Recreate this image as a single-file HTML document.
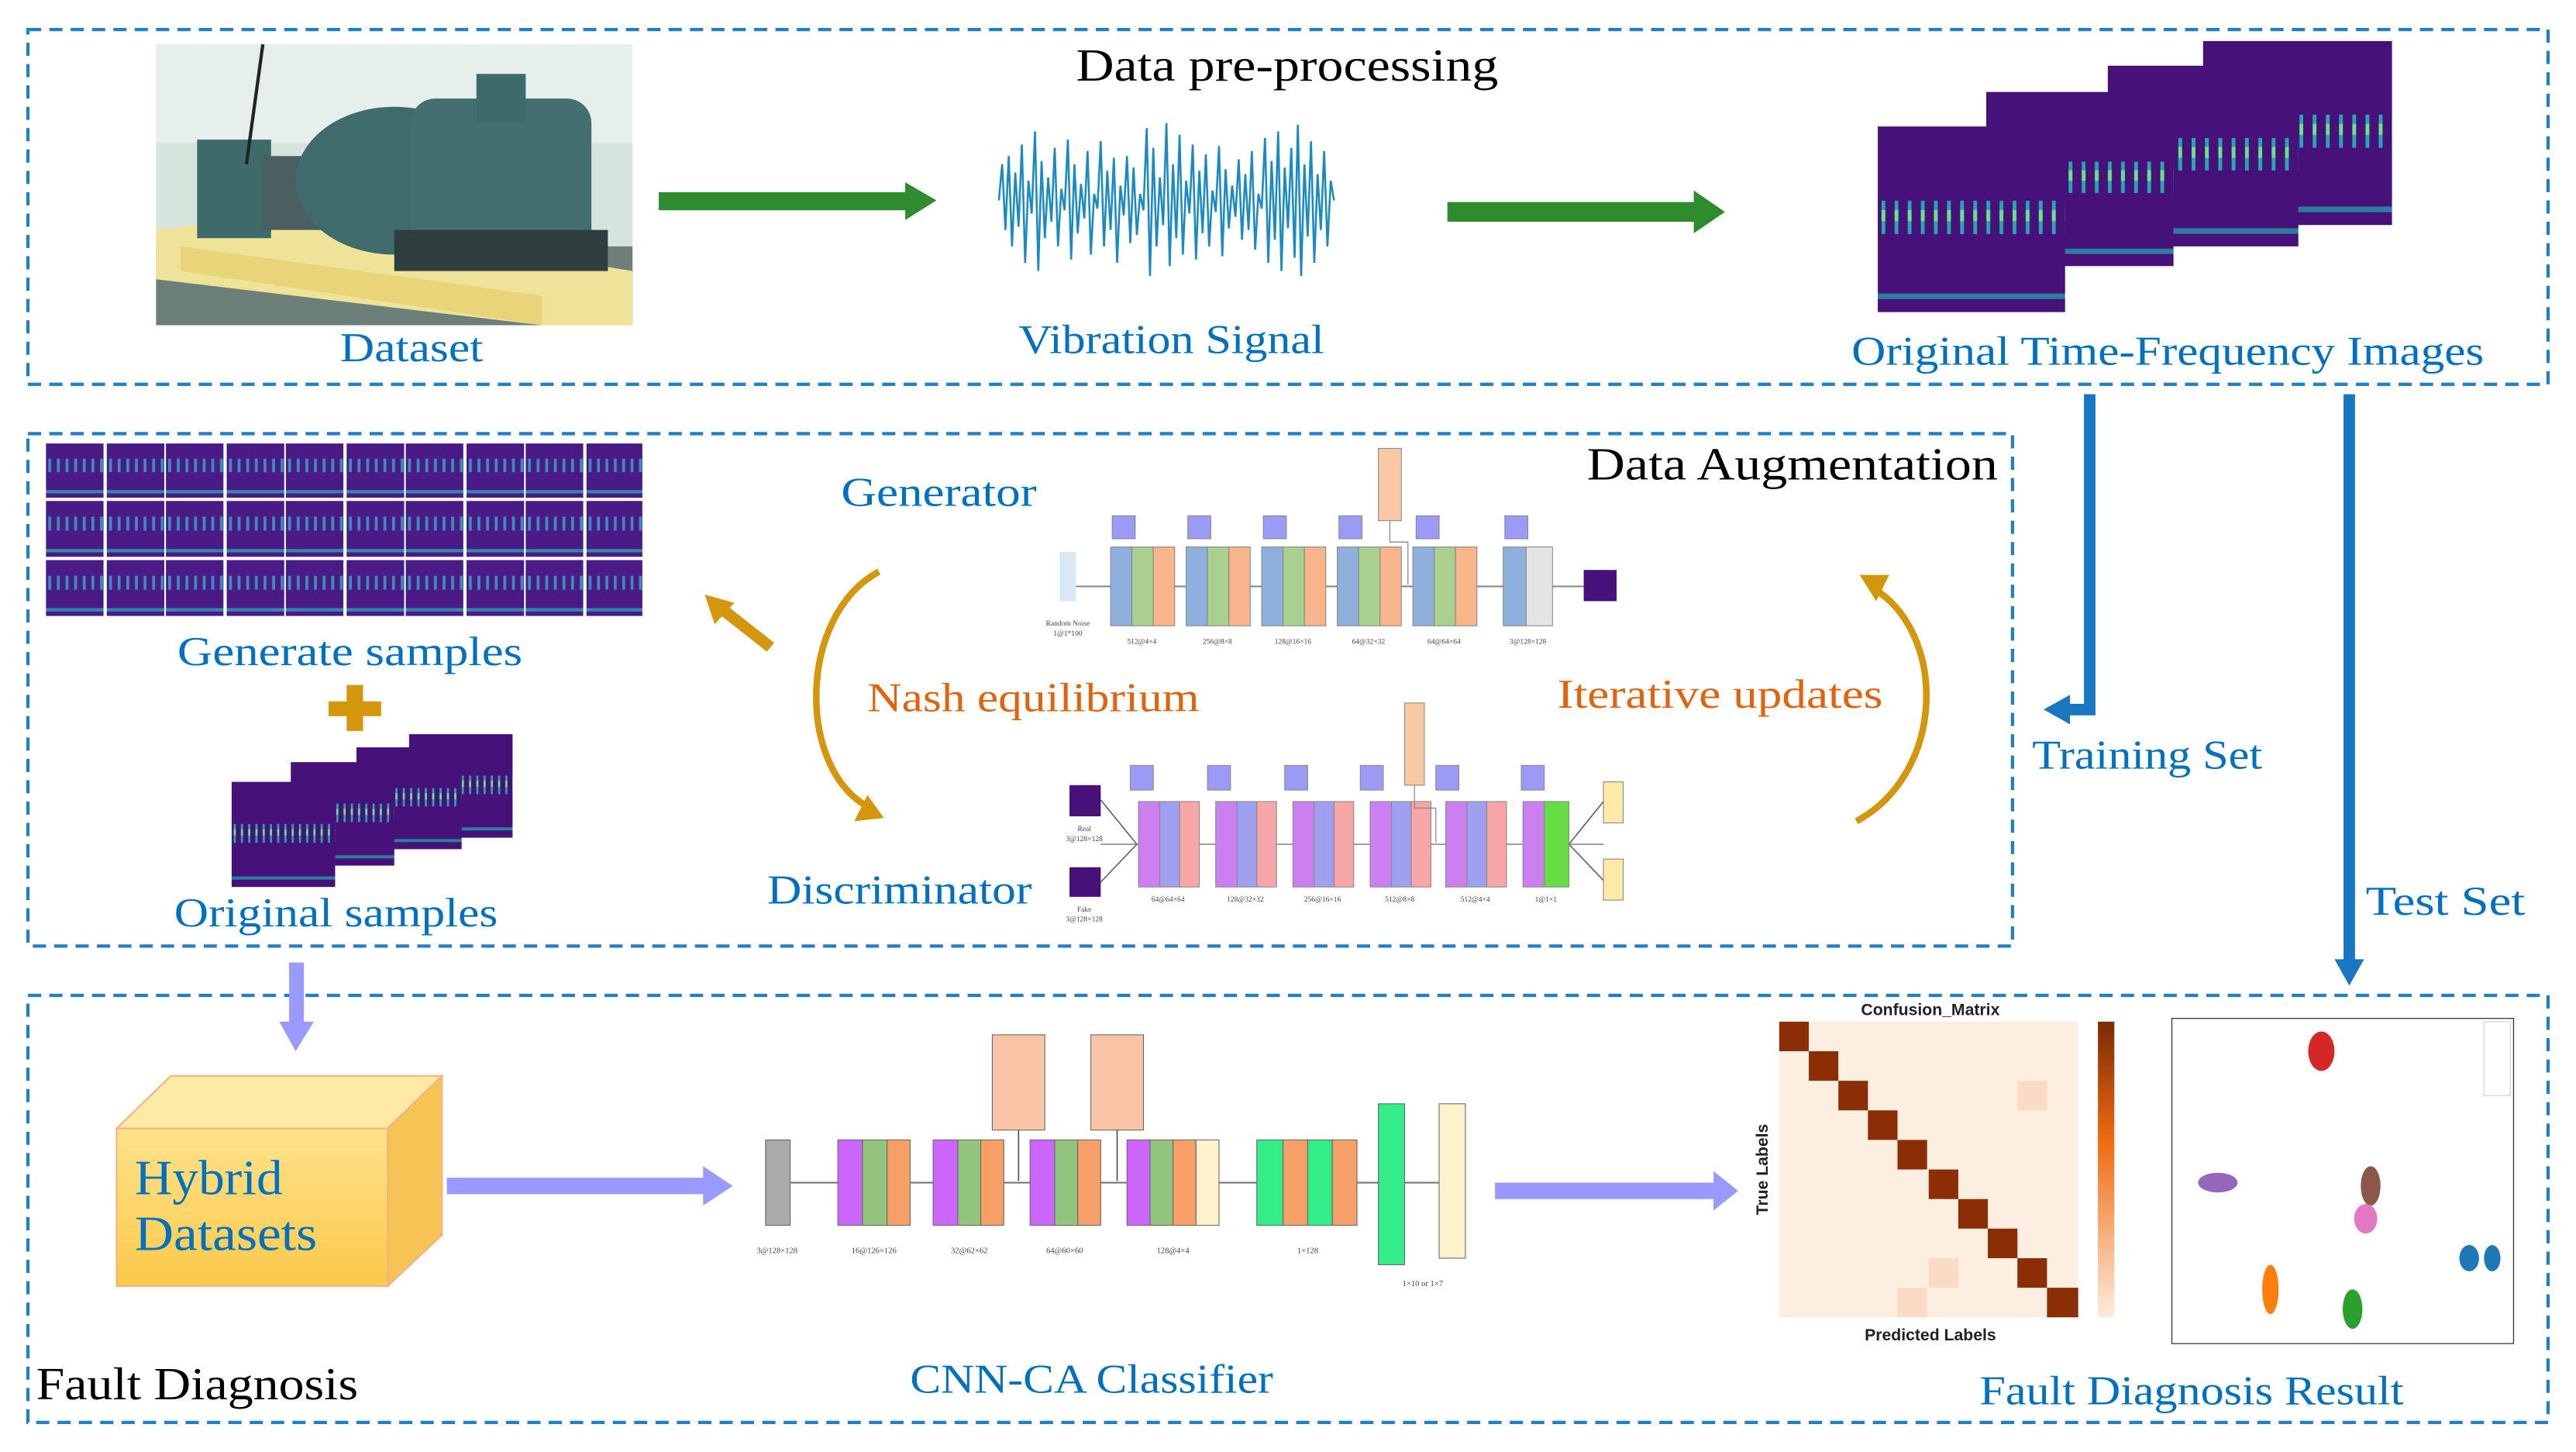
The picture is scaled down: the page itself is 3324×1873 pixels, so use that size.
<!DOCTYPE html>
<html><head><meta charset="utf-8"><style>html,body{margin:0;padding:0;background:#fff}svg{display:block}</style></head>
<body>
<svg xmlns="http://www.w3.org/2000/svg" width="3324" height="1873" viewBox="0 0 1568 884" preserveAspectRatio="none" font-family="'Liberation Serif', serif">
<defs>
<pattern id="sp" width="0.07" height="1" patternUnits="objectBoundingBox" patternContentUnits="objectBoundingBox">
<rect width="0.07" height="1" fill="#46127a"/>
<rect x="0.02" y="0.4" width="0.02" height="0.18" fill="#2aa4b0"/>
<rect x="0.02" y="0.45" width="0.02" height="0.06" fill="#6fe08a"/>
<rect x="0" y="0.9" width="0.07" height="0.03" fill="#2a7fa0"/>
</pattern>
<pattern id="gs" width="0.15" height="1" patternUnits="objectBoundingBox" patternContentUnits="objectBoundingBox">
<rect width="0.15" height="1" fill="#4a1a86"/>
<rect x="0.04" y="0.28" width="0.05" height="0.25" fill="#3a8fb8"/>
<rect x="0" y="0.86" width="0.15" height="0.06" fill="#3288a8"/>
</pattern>
<linearGradient id="cf" x1="0" y1="0" x2="0" y2="1"><stop offset="0" stop-color="#ffe28a"/><stop offset="1" stop-color="#fbc94a"/></linearGradient>
<linearGradient id="cb" x1="0" y1="0" x2="0" y2="1"><stop offset="0" stop-color="#7a2a05"/><stop offset="0.4" stop-color="#f06a10"/><stop offset="1" stop-color="#fdebdc"/></linearGradient>
</defs>

<g fill="none" stroke="#1f7fc8" stroke-width="2" stroke-dasharray="8 5">
<rect x="17" y="18" width="1534" height="216"/>
<rect x="17" y="264" width="1208" height="312"/>
<rect x="17" y="606" width="1534" height="260"/>
</g>

<!-- photo -->
<rect x="95" y="27" width="290" height="171" fill="#d6e4de"/>
<rect x="95" y="27" width="290" height="60" fill="#e6efea"/>
<rect x="95" y="150" width="290" height="48" fill="#6c7f78"/>
<polygon points="95,140 170,130 385,165 385,198 330,198 95,170" fill="#efe39a"/>
<polygon points="110,150 330,180 330,198 110,165" fill="#e8d57a"/>
<rect x="120" y="85" width="45" height="60" fill="#3e6a6a"/>
<rect x="160" y="95" width="60" height="45" fill="#4b5f60"/>
<ellipse cx="240" cy="110" rx="60" ry="45" fill="#3f6b6c"/>
<rect x="250" y="60" width="110" height="95" rx="15" fill="#446f70"/>
<rect x="290" y="45" width="30" height="30" fill="#3e6a6a"/>
<rect x="240" y="140" width="130" height="25" fill="#2e3e3e"/>
<line x1="160" y1="27" x2="150" y2="100" stroke="#222" stroke-width="2"/>

<g fill="#000" font-size="28" lengthAdjust="spacingAndGlyphs">
<text x="655" y="49" textLength="257" lengthAdjust="spacingAndGlyphs">Data pre-processing</text>
<text x="966" y="292" textLength="250" lengthAdjust="spacingAndGlyphs">Data Augmentation</text>
<text x="22" y="852" textLength="196" lengthAdjust="spacingAndGlyphs">Fault Diagnosis</text>
</g>

<g fill="#2e8b2e">
<rect x="401" y="117" width="152" height="11"/><polygon points="551,111 570,122 551,134"/>
<rect x="881" y="123" width="152" height="12"/><polygon points="1031,116 1050,129 1031,142"/>
</g>

<polyline fill="none" stroke="#1a8ac2" stroke-width="1.2" points="608,122 610,100 612,140 614,95 616,150 618,105 620,138 622,88 624,160 626,110 628,130 630,80 632,165 634,98 636,145 638,108 640,135 642,90 644,150 646,115 648,128 650,85 652,158 654,100 656,142 658,112 660,133 662,92 664,155 666,118 668,127 670,86 672,150 674,104 676,140 678,96 680,160 682,113 684,131 686,95 688,148 690,102 692,143 694,118 696,128 698,78 700,168 702,90 704,150 706,108 708,137 710,75 712,162 714,100 716,145 718,82 720,155 722,110 724,130 726,88 728,158 730,104 732,142 734,94 736,150 738,116 740,129 742,89 744,156 746,103 748,139 750,113 752,132 754,97 756,146 758,106 760,140 762,92 764,152 766,118 768,127 770,84 772,160 774,98 776,146 778,80 780,165 782,102 784,139 786,90 788,157 790,76 792,168 794,100 796,144 798,86 800,160 802,106 804,140 806,92 808,150 810,110 812,122"/>

<rect x="1341" y="25" width="115" height="112" fill="url(#sp)"/>
<rect x="1283" y="40" width="116" height="110" fill="url(#sp)"/>
<rect x="1209" y="56" width="114" height="106" fill="url(#sp)"/>
<rect x="1143" y="77" width="114" height="113" fill="url(#sp)"/>

<g fill="#0070c0" font-size="25">
<text x="207" y="220" textLength="87" lengthAdjust="spacingAndGlyphs">Dataset</text>
<text x="620" y="215" textLength="186" lengthAdjust="spacingAndGlyphs">Vibration Signal</text>
<text x="1127" y="222" textLength="385" lengthAdjust="spacingAndGlyphs">Original Time-Frequency Images</text>
<text x="1237" y="468" textLength="140" lengthAdjust="spacingAndGlyphs">Training Set</text>
<text x="1440" y="557" textLength="97" lengthAdjust="spacingAndGlyphs">Test Set</text>
<text x="108" y="405" textLength="210" lengthAdjust="spacingAndGlyphs">Generate samples</text>
<text x="106" y="564" textLength="197" lengthAdjust="spacingAndGlyphs">Original samples</text>
<text x="512" y="308" textLength="119" lengthAdjust="spacingAndGlyphs">Generator</text>
<text x="467" y="550" textLength="161" lengthAdjust="spacingAndGlyphs">Discriminator</text>
<text x="554" y="848" textLength="221" lengthAdjust="spacingAndGlyphs">CNN-CA Classifier</text>
<text x="1205" y="855" textLength="258" lengthAdjust="spacingAndGlyphs">Fault Diagnosis Result</text>
</g>
<g fill="#e0640e" font-size="25">
<text x="528" y="433" textLength="202" lengthAdjust="spacingAndGlyphs">Nash equilibrium</text>
<text x="948" y="431" textLength="198" lengthAdjust="spacingAndGlyphs">Iterative updates</text>
</g>

<g fill="none" stroke="#1877c0" stroke-width="7">
<polyline points="1272,240 1272,432 1258,432"/>
<line x1="1430" y1="240" x2="1430" y2="586"/>
</g>
<g fill="#1877c0">
<polygon points="1244,432 1260,423 1260,441"/>
<polygon points="1421,584 1439,584 1430,600"/>
</g>

<g fill="url(#gs)">
<rect x="28" y="270" width="35" height="33"/><rect x="65" y="270" width="35" height="33"/><rect x="101" y="270" width="35" height="33"/><rect x="138" y="270" width="35" height="33"/><rect x="174" y="270" width="35" height="33"/><rect x="211" y="270" width="35" height="33"/><rect x="247" y="270" width="35" height="33"/><rect x="284" y="270" width="35" height="33"/><rect x="320" y="270" width="35" height="33"/><rect x="357" y="270" width="34" height="33"/>
<rect x="28" y="305" width="35" height="34"/><rect x="65" y="305" width="35" height="34"/><rect x="101" y="305" width="35" height="34"/><rect x="138" y="305" width="35" height="34"/><rect x="174" y="305" width="35" height="34"/><rect x="211" y="305" width="35" height="34"/><rect x="247" y="305" width="35" height="34"/><rect x="284" y="305" width="35" height="34"/><rect x="320" y="305" width="35" height="34"/><rect x="357" y="305" width="34" height="34"/>
<rect x="28" y="341" width="35" height="34"/><rect x="65" y="341" width="35" height="34"/><rect x="101" y="341" width="35" height="34"/><rect x="138" y="341" width="35" height="34"/><rect x="174" y="341" width="35" height="34"/><rect x="211" y="341" width="35" height="34"/><rect x="247" y="341" width="35" height="34"/><rect x="284" y="341" width="35" height="34"/><rect x="320" y="341" width="35" height="34"/><rect x="357" y="341" width="34" height="34"/>
</g>

<g fill="#d4960a"><rect x="200" y="427" width="32" height="9"/><rect x="211" y="417" width="10" height="28"/></g>

<rect x="249" y="447" width="63" height="63" fill="url(#sp)"/>
<rect x="217" y="455" width="64" height="62" fill="url(#sp)"/>
<rect x="177" y="464" width="63" height="63" fill="url(#sp)"/>
<rect x="141" y="476" width="63" height="64" fill="url(#sp)"/>

<line x1="469" y1="394" x2="441" y2="372" stroke="#d4960a" stroke-width="7"/>
<polygon points="429,362 447,367 435,380" fill="#d4960a"/>
<g fill="none" stroke="#d4960a" stroke-width="4">
<path d="M535,348 C485,375 485,470 530,492"/>
<path d="M1130,500 C1185,470 1185,385 1140,358"/>
</g>
<g fill="#d4960a">
<polygon points="538,498 520,500 528,484"/>
<polygon points="1132,350 1150,350 1142,366"/>
</g>

<!-- Generator -->
<g font-size="4.5" fill="#444" text-anchor="middle">
<line x1="655" y1="357" x2="964" y2="357" stroke="#888" stroke-width="1"/>
<rect x="645" y="336" width="10" height="30" fill="#d8e8f4"/>
<text x="650" y="381">Random Noise</text><text x="650" y="387">1@1*100</text>
<g stroke="#888" stroke-width="0.5">
<rect x="676" y="333" width="13" height="48" fill="#8fb0dc"/><rect x="689" y="333" width="13" height="48" fill="#a9d08e"/><rect x="702" y="333" width="13" height="48" fill="#f8b48a"/>
<rect x="722" y="333" width="13" height="48" fill="#8fb0dc"/><rect x="735" y="333" width="13" height="48" fill="#a9d08e"/><rect x="748" y="333" width="13" height="48" fill="#f8b48a"/>
<rect x="768" y="333" width="13" height="48" fill="#8fb0dc"/><rect x="781" y="333" width="13" height="48" fill="#a9d08e"/><rect x="794" y="333" width="13" height="48" fill="#f8b48a"/>
<rect x="814" y="333" width="13" height="48" fill="#8fb0dc"/><rect x="827" y="333" width="13" height="48" fill="#a9d08e"/><rect x="840" y="333" width="13" height="48" fill="#f8b48a"/>
<rect x="860" y="333" width="13" height="48" fill="#8fb0dc"/><rect x="873" y="333" width="13" height="48" fill="#a9d08e"/><rect x="886" y="333" width="13" height="48" fill="#f8b48a"/>
<rect x="915" y="333" width="14" height="48" fill="#8fb0dc"/><rect x="929" y="333" width="16" height="48" fill="#e4e4e4"/>
<rect x="677" y="314" width="14" height="14" fill="#9b9bf5"/><rect x="723" y="314" width="14" height="14" fill="#9b9bf5"/><rect x="769" y="314" width="14" height="14" fill="#9b9bf5"/><rect x="815" y="314" width="14" height="14" fill="#9b9bf5"/><rect x="862" y="314" width="14" height="14" fill="#9b9bf5"/><rect x="916" y="314" width="14" height="14" fill="#9b9bf5"/>
<rect x="839" y="273" width="14" height="44" fill="#f9c9a6"/>
</g>
<polyline points="846,317 846,330 857,330 857,356" fill="none" stroke="#888" stroke-width="0.6"/>
<rect x="964" y="347" width="20" height="19" fill="#46127a"/>
<text x="695" y="392">512@4×4</text><text x="741" y="392">256@8×8</text><text x="787" y="392">128@16×16</text><text x="833" y="392">64@32×32</text><text x="879" y="392">64@64×64</text><text x="930" y="392">3@128×128</text>
</g>

<!-- Discriminator -->
<g font-size="4.5" fill="#444" text-anchor="middle">
<line x1="670" y1="514" x2="976" y2="514" stroke="#888" stroke-width="0.8"/>
<polyline points="670,487 692,514 670,537" fill="none" stroke="#666" stroke-width="0.8"/>
<polyline points="976,488 955,514 976,536" fill="none" stroke="#666" stroke-width="0.8"/>
<rect x="651" y="478" width="19" height="19" fill="#46127a"/>
<rect x="651" y="528" width="19" height="18" fill="#46127a"/>
<text x="660" y="506">Real</text><text x="660" y="512">3@128×128</text>
<text x="660" y="555">Fake</text><text x="660" y="561">3@128×128</text>
<g stroke="#888" stroke-width="0.5">
<rect x="693" y="488" width="13" height="52" fill="#cc80f0"/><rect x="706" y="488" width="12" height="52" fill="#a0a0f0"/><rect x="718" y="488" width="12" height="52" fill="#f6a6a6"/>
<rect x="740" y="488" width="13" height="52" fill="#cc80f0"/><rect x="753" y="488" width="12" height="52" fill="#a0a0f0"/><rect x="765" y="488" width="12" height="52" fill="#f6a6a6"/>
<rect x="787" y="488" width="13" height="52" fill="#cc80f0"/><rect x="800" y="488" width="12" height="52" fill="#a0a0f0"/><rect x="812" y="488" width="12" height="52" fill="#f6a6a6"/>
<rect x="834" y="488" width="13" height="52" fill="#cc80f0"/><rect x="847" y="488" width="12" height="52" fill="#a0a0f0"/><rect x="859" y="488" width="12" height="52" fill="#f6a6a6"/>
<rect x="880" y="488" width="13" height="52" fill="#cc80f0"/><rect x="893" y="488" width="12" height="52" fill="#a0a0f0"/><rect x="905" y="488" width="12" height="52" fill="#f6a6a6"/>
<rect x="927" y="488" width="13" height="52" fill="#cc80f0"/><rect x="940" y="488" width="15" height="52" fill="#66dd44"/>
<rect x="688" y="466" width="14" height="15" fill="#9b9bf5"/><rect x="735" y="466" width="14" height="15" fill="#9b9bf5"/><rect x="782" y="466" width="14" height="15" fill="#9b9bf5"/><rect x="828" y="466" width="14" height="15" fill="#9b9bf5"/><rect x="874" y="466" width="14" height="15" fill="#9b9bf5"/><rect x="926" y="466" width="14" height="15" fill="#9b9bf5"/>
<rect x="855" y="428" width="12" height="50" fill="#f9c9a6"/>
<rect x="976" y="476" width="12" height="25" fill="#fde9a8"/>
<rect x="976" y="523" width="12" height="25" fill="#fde9a8"/>
</g>
<polyline points="861,478 861,492 874,492 874,513" fill="none" stroke="#888" stroke-width="0.6"/>
<text x="711" y="549">64@64×64</text><text x="758" y="549">128@32×32</text><text x="805" y="549">256@16×16</text><text x="852" y="549">512@8×8</text><text x="898" y="549">512@4×4</text><text x="941" y="549">1@1×1</text>
</g>

<g fill="#9999ff">
<rect x="176" y="586" width="9" height="38"/><polygon points="170,622 191,622 180,640"/>
<rect x="272" y="717" width="158" height="10"/><polygon points="428,710 446,722 428,734"/>
<rect x="910" y="720" width="135" height="10"/><polygon points="1043,713 1058,725 1043,737"/>
</g>

<polygon points="71,687 104,655 269,655 236,687" fill="#ffe9a6" stroke="#f4b183" stroke-width="1"/>
<polygon points="236,687 269,655 269,752 236,783" fill="#f5c455" stroke="#f4b183" stroke-width="1"/>
<rect x="71" y="687" width="165" height="96" fill="url(#cf)" stroke="#f4b183" stroke-width="1"/>
<g fill="#0070c0" font-size="30"><text x="82" y="727" textLength="90" lengthAdjust="spacingAndGlyphs">Hybrid</text><text x="82" y="761" textLength="111" lengthAdjust="spacingAndGlyphs">Datasets</text></g>

<!-- CNN -->
<g font-size="5" fill="#444" text-anchor="middle">
<line x1="481" y1="720" x2="876" y2="720" stroke="#777" stroke-width="1"/>
<g stroke="#666" stroke-width="0.5">
<rect x="466" y="694" width="15" height="52" fill="#aaaaaa"/>
<rect x="510" y="694" width="15" height="52" fill="#cc66ff"/><rect x="525" y="694" width="15" height="52" fill="#93c47d"/><rect x="540" y="694" width="14" height="52" fill="#f6a067"/>
<rect x="568" y="694" width="15" height="52" fill="#cc66ff"/><rect x="583" y="694" width="14" height="52" fill="#93c47d"/><rect x="597" y="694" width="14" height="52" fill="#f6a067"/>
<rect x="627" y="694" width="15" height="52" fill="#cc66ff"/><rect x="642" y="694" width="14" height="52" fill="#93c47d"/><rect x="656" y="694" width="14" height="52" fill="#f6a067"/>
<rect x="686" y="694" width="14" height="52" fill="#cc66ff"/><rect x="700" y="694" width="14" height="52" fill="#93c47d"/><rect x="714" y="694" width="14" height="52" fill="#f6a067"/><rect x="728" y="694" width="14" height="52" fill="#fff2cc"/>
<rect x="765" y="694" width="16" height="52" fill="#33ee88"/><rect x="781" y="694" width="15" height="52" fill="#f6a067"/><rect x="796" y="694" width="15" height="52" fill="#33ee88"/><rect x="811" y="694" width="15" height="52" fill="#f6a067"/>
<rect x="839" y="672" width="16" height="98" fill="#33ee88"/>
<rect x="876" y="672" width="16" height="94" fill="#fff2cc"/>
<rect x="604" y="630" width="32" height="58" fill="#f9c4a6"/>
<rect x="664" y="630" width="32" height="58" fill="#f9c4a6"/>
</g>
<line x1="620" y1="688" x2="620" y2="719" stroke="#555" stroke-width="0.8"/>
<line x1="680" y1="688" x2="680" y2="719" stroke="#555" stroke-width="0.8"/>
<text x="473" y="763">3@128×128</text><text x="532" y="763">16@126×126</text><text x="590" y="763">32@62×62</text><text x="648" y="763">64@60×60</text><text x="714" y="763">128@4×4</text><text x="796" y="763">1×128</text><text x="866" y="783">1×10 or 1×7</text>
</g>

<!-- Confusion matrix -->
<rect x="1083" y="622" width="182" height="180" fill="#fdeee2"/>
<g fill="#8b2e06">
<rect x="1083" y="622" width="18" height="18"/><rect x="1101" y="640" width="18" height="18"/><rect x="1119" y="658" width="18" height="18"/><rect x="1137" y="676" width="18" height="18"/><rect x="1155" y="694" width="18" height="18"/><rect x="1174" y="712" width="18" height="18"/><rect x="1192" y="730" width="18" height="18"/><rect x="1210" y="748" width="18" height="18"/><rect x="1228" y="766" width="18" height="18"/><rect x="1246" y="784" width="19" height="18"/>
</g>
<g fill="#fadbc4"><rect x="1228" y="658" width="18" height="18"/><rect x="1174" y="766" width="18" height="18"/><rect x="1155" y="784" width="18" height="18"/></g>
<rect x="1277" y="622" width="10" height="180" fill="url(#cb)"/>
<text x="1175" y="618" font-family="'Liberation Sans', sans-serif" font-weight="bold" font-size="10" text-anchor="middle" fill="#222">Confusion_Matrix</text>
<text x="1175" y="816" font-family="'Liberation Sans', sans-serif" font-weight="bold" font-size="10" text-anchor="middle" fill="#222">Predicted Labels</text>
<text transform="translate(1076,712) rotate(-90)" font-family="'Liberation Sans', sans-serif" font-weight="bold" font-size="10" text-anchor="middle" fill="#222">True Labels</text>

<!-- t-SNE -->
<rect x="1322" y="620" width="208" height="198" fill="#fff" stroke="#333" stroke-width="0.6"/>
<rect x="1512" y="622" width="16" height="45" fill="#fff" stroke="#ccc" stroke-width="0.5"/>
<ellipse cx="1413" cy="640" rx="8" ry="12" fill="#d62728"/>
<ellipse cx="1350" cy="720" rx="12" ry="6" fill="#9467bd"/>
<ellipse cx="1443" cy="722" rx="6" ry="12" fill="#8c564b"/>
<ellipse cx="1440" cy="742" rx="7" ry="9" fill="#e377c2"/>
<ellipse cx="1503" cy="766" rx="6" ry="8" fill="#1f77b4"/><ellipse cx="1517" cy="766" rx="5" ry="8" fill="#1f77b4"/>
<ellipse cx="1382" cy="785" rx="5" ry="15" fill="#ff7f0e"/>
<ellipse cx="1432" cy="797" rx="6" ry="12" fill="#2ca02c"/>
</svg>
</body></html>
